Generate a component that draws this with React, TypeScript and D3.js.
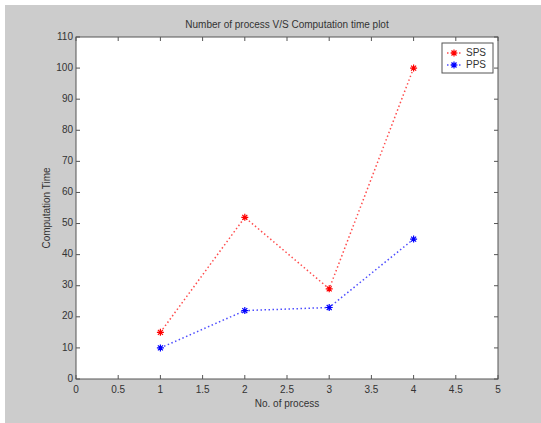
import React, { useEffect, useRef } from 'react';
import * as d3 from 'd3';

// Data
const processCounts = [1, 2, 3, 4];
const spsTimes = [15, 52, 29, 100];
const ppsTimes = [10, 22, 23, 45];
const xTicks = [0, 0.5, 1, 1.5, 2, 2.5, 3, 3.5, 4, 4.5, 5];
const yTicks = [0, 10, 20, 30, 40, 50, 60, 70, 80, 90, 100, 110];
const seriesNames = ['SPS', 'PPS'];
const seriesColors = ['#ff0000', '#0000ff'];

const FONT = '"Liberation Sans Narrow", "Arial Narrow", "Liberation Sans", Arial, sans-serif';

const App: React.FC = () => {
  const svgRef = useRef<SVGSVGElement>(null);

  useEffect(() => {
    if (!svgRef.current) return;
    const svg = d3.select(svgRef.current);
    svg.selectAll('*').remove();

    const width = 541;
    const height = 423;
    const margin = { top: 37, right: 43, bottom: 44, left: 76 };
    const innerW = width - margin.left - margin.right;
    const innerH = height - margin.top - margin.bottom;

    // Figure background
    svg.append('rect').attr('width', width).attr('height', height).attr('fill', '#ffffff');
    svg
      .append('rect')
      .attr('x', 5)
      .attr('y', 5)
      .attr('width', width - 5)
      .attr('height', height - 5)
      .attr('fill', '#cccccc');

    const x = d3.scaleLinear().domain([0, 5]).range([0, innerW]);
    const y = d3.scaleLinear().domain([0, 110]).range([innerH, 0]);

    const g = svg.append('g').attr('transform', `translate(${margin.left},${margin.top})`);

    // Axes box
    g.append('rect')
      .attr('width', innerW)
      .attr('height', innerH)
      .attr('fill', '#ffffff')
      .attr('stroke', '#555555')
      .attr('stroke-width', 1);

    const tickLen = 4;
    const tickColor = '#555555';

    // Ticks (inward, all four sides)
    xTicks.forEach((t) => {
      g.append('line')
        .attr('x1', x(t)).attr('x2', x(t))
        .attr('y1', innerH).attr('y2', innerH - tickLen)
        .attr('stroke', tickColor);
      g.append('line')
        .attr('x1', x(t)).attr('x2', x(t))
        .attr('y1', 0).attr('y2', tickLen)
        .attr('stroke', tickColor);
      g.append('text')
        .attr('x', x(t))
        .attr('y', innerH + 11)
        .attr('text-anchor', 'middle')
        .attr('dominant-baseline', 'middle')
        .attr('font-family', FONT)
        .attr('font-size', '10px')
        .attr('fill', '#333333')
        .text(String(t));
    });

    yTicks.forEach((t) => {
      g.append('line')
        .attr('x1', 0).attr('x2', tickLen)
        .attr('y1', y(t)).attr('y2', y(t))
        .attr('stroke', tickColor);
      g.append('line')
        .attr('x1', innerW).attr('x2', innerW - tickLen)
        .attr('y1', y(t)).attr('y2', y(t))
        .attr('stroke', tickColor);
      g.append('text')
        .attr('x', -3)
        .attr('y', y(t))
        .attr('text-anchor', 'end')
        .attr('dominant-baseline', 'middle')
        .attr('font-family', FONT)
        .attr('font-size', '10px')
        .attr('fill', '#333333')
        .text(String(t));
    });

    // Series
    const seriesData = [spsTimes, ppsTimes];
    const line = d3
      .line<number>()
      .x((_, i) => x(processCounts[i]))
      .y((d) => y(d));

    const drawStar = (sel: d3.Selection<SVGGElement, unknown, null, undefined>, cx: number, cy: number, color: string) => {
      const s = 3.5;
      const d = 2.5;
      sel.append('path')
        .attr(
          'd',
          `M${cx - s},${cy}L${cx + s},${cy}M${cx},${cy - s}L${cx},${cy + s}` +
            `M${cx - d},${cy - d}L${cx + d},${cy + d}M${cx - d},${cy + d}L${cx + d},${cy - d}`
        )
        .attr('stroke', color)
        .attr('stroke-width', 1.2)
        .attr('fill', 'none');
    };

    seriesData.forEach((vals, si) => {
      g.append('path')
        .datum(vals)
        .attr('d', line)
        .attr('fill', 'none')
        .attr('stroke', seriesColors[si])
        .attr('stroke-width', 1.5)
        .attr('stroke-dasharray', '1.5,2.5')
        .attr('opacity', 0.7);
      const mg = g.append('g');
      vals.forEach((v, i) => drawStar(mg, x(processCounts[i]), y(v), seriesColors[si]));
    });

    // Legend
    const lg = svg.append('g').attr('transform', 'translate(442,43)');
    lg.append('rect')
      .attr('width', 51)
      .attr('height', 30)
      .attr('fill', '#ffffff')
      .attr('stroke', '#555555');
    seriesNames.forEach((name, i) => {
      const ly = 10 + i * 12;
      lg.append('line')
        .attr('x1', 5).attr('x2', 19)
        .attr('y1', ly).attr('y2', ly)
        .attr('stroke', seriesColors[i])
        .attr('stroke-width', 1.5)
        .attr('stroke-dasharray', '1.5,2.5')
        .attr('opacity', 0.7);
      drawStar(lg as any, 12, ly, seriesColors[i]);
      lg.append('text')
        .attr('x', 24)
        .attr('y', ly)
        .attr('dominant-baseline', 'middle')
        .attr('font-family', FONT)
        .attr('font-size', '10px')
        .attr('fill', '#333333')
        .text(name);
    });

    // Title and axis labels
    svg.append('text')
      .attr('x', margin.left + innerW / 2)
      .attr('y', 25)
      .attr('text-anchor', 'middle')
      .attr('dominant-baseline', 'middle')
      .attr('font-family', FONT)
      .attr('font-size', '10px')
      .attr('fill', '#333333')
      .text('Number of process V/S Computation time plot');

    svg.append('text')
      .attr('x', margin.left + innerW / 2)
      .attr('y', 404)
      .attr('text-anchor', 'middle')
      .attr('dominant-baseline', 'middle')
      .attr('font-family', FONT)
      .attr('font-size', '10px')
      .attr('fill', '#333333')
      .text('No. of process');

    svg.append('text')
      .attr('transform', `translate(47,${margin.top + innerH / 2}) rotate(-90)`)
      .attr('text-anchor', 'middle')
      .attr('dominant-baseline', 'middle')
      .attr('font-family', FONT)
      .attr('font-size', '10px')
      .attr('fill', '#333333')
      .text('Computation Time');
  }, []);

  return (
    <svg
      ref={svgRef}
      width={541}
      height={423}
      style={{ position: 'absolute', left: 0, top: 0, display: 'block' }}
    />
  );
};

export default App;
